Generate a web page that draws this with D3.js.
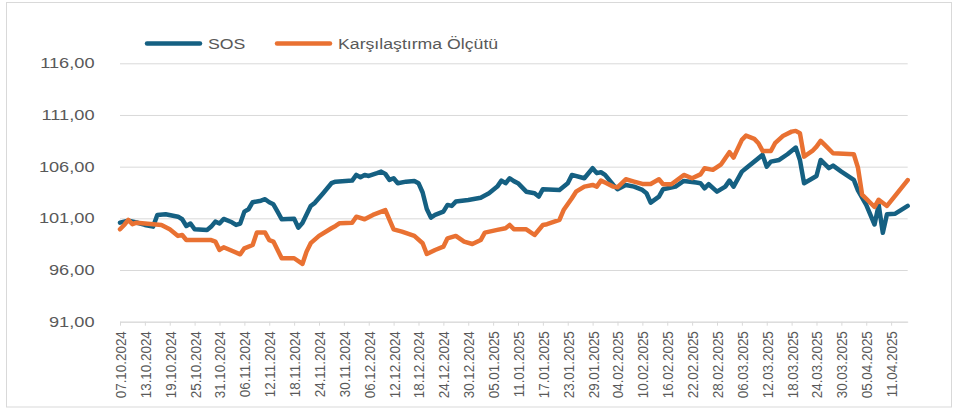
<!DOCTYPE html>
<html>
<head>
<meta charset="utf-8">
<script src="https://cdn.jsdelivr.net/npm/d3@7"></script>
<style>
  body { margin: 0; background: #fff; }
  svg { display: block; font-family: "Liberation Sans", Arial, sans-serif; }
</style>
</head>
<body>
<div id="chart"></div>
<script>
// series names
let seriesNames = ["SOS", "Karşılaştırma Ölçütü"];
let seriesColors = ["#156082", "#E97132"];

// SOS
let sosSeries = [
  ["2024-10-07",100.58],["2024-10-09",100.78],["2024-10-11",100.6],["2024-10-13",100.36],["2024-10-15",100.2],
  ["2024-10-16",101.33],["2024-10-18",101.4],["2024-10-21",101.16],["2024-10-22",100.91],["2024-10-23",100.26],
  ["2024-10-24",100.5],["2024-10-25",99.94],["2024-10-28",99.88],["2024-10-29",100.2],["2024-10-30",100.68],
  ["2024-10-31",100.5],["2024-11-01",100.94],["2024-11-03",100.62],["2024-11-04",100.36],["2024-11-05",100.5],
  ["2024-11-06",101.65],["2024-11-07",101.88],["2024-11-08",102.56],["2024-11-10",102.71],["2024-11-11",102.85],
  ["2024-11-12",102.56],["2024-11-13",102.36],["2024-11-14",101.65],["2024-11-15",100.91],["2024-11-18",100.97],
  ["2024-11-19",100.1],["2024-11-20",100.55],["2024-11-22",102.2],["2024-11-23",102.5],["2024-11-25",103.43],
  ["2024-11-27",104.4],["2024-11-28",104.55],["2024-12-02",104.65],["2024-12-03",105.2],["2024-12-04",104.98],
  ["2024-12-05",105.2],["2024-12-06",105.1],["2024-12-08",105.37],["2024-12-09",105.52],["2024-12-10",105.3],
  ["2024-12-11",104.72],["2024-12-12",104.88],["2024-12-13",104.4],["2024-12-15",104.55],["2024-12-17",104.62],
  ["2024-12-18",104.4],["2024-12-19",103.5],["2024-12-20",101.9],["2024-12-21",101.07],["2024-12-22",101.33],
  ["2024-12-24",101.65],["2024-12-25",102.3],["2024-12-26",102.2],["2024-12-27",102.62],["2024-12-30",102.78],
  ["2025-01-02",103.0],["2025-01-04",103.43],["2025-01-06",104.07],["2025-01-07",104.65],["2025-01-08",104.4],
  ["2025-01-09",104.88],["2025-01-10",104.6],["2025-01-11",104.4],["2025-01-13",103.58],["2025-01-15",103.43],
  ["2025-01-16",103.1],["2025-01-17",103.82],["2025-01-21",103.75],["2025-01-23",104.4],["2025-01-24",105.2],
  ["2025-01-27",104.88],["2025-01-29",105.85],["2025-01-30",105.37],["2025-01-31",105.46],["2025-02-01",105.2],
  ["2025-02-03",104.23],["2025-02-04",103.82],["2025-02-06",104.23],["2025-02-08",104.07],["2025-02-10",103.75],
  ["2025-02-11",103.43],["2025-02-12",102.52],["2025-02-14",103.1],["2025-02-15",103.82],["2025-02-18",104.07],
  ["2025-02-20",104.62],["2025-02-23",104.46],["2025-02-24",104.4],["2025-02-25",103.91],["2025-02-26",104.3],
  ["2025-02-28",103.58],["2025-03-02",104.07],["2025-03-03",104.65],["2025-03-04",104.07],["2025-03-06",105.52],
  ["2025-03-07",105.85],["2025-03-11",107.14],["2025-03-12",106.0],["2025-03-13",106.49],["2025-03-15",106.65],
  ["2025-03-17",107.2],["2025-03-19",107.85],["2025-03-20",106.65],["2025-03-21",104.4],["2025-03-24",105.1],
  ["2025-03-25",106.65],["2025-03-27",105.85],["2025-03-28",106.1],["2025-03-30",105.52],["2025-04-02",104.72],
  ["2025-04-03",103.7],["2025-04-05",102.3],["2025-04-07",100.4],["2025-04-08",102.3],["2025-04-09",99.6],
  ["2025-04-10",101.4],["2025-04-12",101.45],["2025-04-15",102.2]
];

// Karşılaştırma Ölçütü
let benchSeries = [
  ["2024-10-07",99.94],["2024-10-08",100.36],["2024-10-09",100.85],["2024-10-10",100.43],["2024-10-11",100.58],
  ["2024-10-15",100.43],["2024-10-17",100.36],["2024-10-19",99.94],["2024-10-21",99.3],["2024-10-22",99.39],
  ["2024-10-23",98.9],["2024-10-29",98.9],["2024-10-30",98.75],["2024-10-31",97.94],["2024-11-01",98.2],
  ["2024-11-05",97.52],["2024-11-06",98.1],["2024-11-08",98.42],["2024-11-09",99.62],["2024-11-11",99.62],
  ["2024-11-12",98.9],["2024-11-13",98.75],["2024-11-15",97.14],["2024-11-18",97.14],["2024-11-20",96.59],
  ["2024-11-21",97.78],["2024-11-22",98.6],["2024-11-24",99.3],["2024-11-27",100.04],["2024-11-28",100.26],
  ["2024-11-29",100.53],["2024-12-02",100.58],["2024-12-03",101.16],["2024-12-05",100.91],["2024-12-07",101.33],
  ["2024-12-10",101.8],["2024-12-12",99.94],["2024-12-14",99.71],["2024-12-17",99.3],["2024-12-19",98.59],
  ["2024-12-20",97.55],["2024-12-22",97.94],["2024-12-24",98.26],["2024-12-25",99.07],["2024-12-27",99.3],
  ["2024-12-29",98.75],["2024-12-31",98.52],["2025-01-02",98.9],["2025-01-03",99.62],["2025-01-06",99.88],
  ["2025-01-08",100.04],["2025-01-09",100.36],["2025-01-10",99.95],["2025-01-13",99.94],["2025-01-15",99.39],
  ["2025-01-17",100.36],["2025-01-18",100.43],["2025-01-21",100.85],["2025-01-22",101.8],["2025-01-24",102.95],
  ["2025-01-25",103.58],["2025-01-27",104.07],["2025-01-29",104.23],["2025-01-30",104.07],["2025-01-31",104.65],
  ["2025-02-01",104.46],["2025-02-03",104.07],["2025-02-04",104.0],["2025-02-06",104.78],["2025-02-08",104.55],
  ["2025-02-10",104.33],["2025-02-12",104.33],["2025-02-14",104.78],["2025-02-15",104.3],["2025-02-17",104.3],
  ["2025-02-20",105.2],["2025-02-22",104.88],["2025-02-24",105.25],["2025-02-25",105.85],["2025-02-27",105.69],
  ["2025-03-01",106.23],["2025-03-03",107.4],["2025-03-04",106.88],["2025-03-06",108.59],["2025-03-07",109.0],
  ["2025-03-09",108.69],["2025-03-10",108.27],["2025-03-11",107.52],["2025-03-13",107.52],["2025-03-14",108.27],
  ["2025-03-16",109.0],["2025-03-18",109.39],["2025-03-19",109.46],["2025-03-20",109.24],["2025-03-21",106.97],
  ["2025-03-23",107.52],["2025-03-24",107.94],["2025-03-25",108.5],["2025-03-26",108.1],["2025-03-28",107.3],
  ["2025-04-02",107.2],["2025-04-03",105.9],["2025-04-04",103.3],["2025-04-07",102.1],["2025-04-08",102.8],
  ["2025-04-10",102.2],["2025-04-12",103.2],["2025-04-15",104.7]
];

// axis labels
let xTickLabels = ["07.10.2024","13.10.2024","19.10.2024","25.10.2024","31.10.2024","06.11.2024","12.11.2024",
  "18.11.2024","24.11.2024","30.11.2024","06.12.2024","12.12.2024","18.12.2024","24.12.2024","30.12.2024",
  "05.01.2025","11.01.2025","17.01.2025","23.01.2025","29.01.2025","04.02.2025","10.02.2025","16.02.2025",
  "22.02.2025","28.02.2025","06.03.2025","12.03.2025","18.03.2025","24.03.2025","30.03.2025","05.04.2025","11.04.2025"];
let yTicks = [91, 96, 101, 106, 111, 116];
let xStart = "2024-10-07", xEnd = "2025-04-15";

let width = 953, height = 414;
let margin = ({top: 63.3, right: 45, bottom: 92.3, left: 120});

let parseIso = d3.timeParse("%Y-%m-%d");
let parseTr = d3.timeParse("%d.%m.%Y");

let svg = d3.select("#chart").append("svg")
    .attr("width", width)
    .attr("height", height);

// outer frame
svg.append("rect")
    .attr("x", 6.5).attr("y", 2.5)
    .attr("width", 945).attr("height", 404.5)
    .attr("fill", "none")
    .attr("stroke", "#d9d9d9");

let x = d3.scaleTime()
    .domain([parseIso(xStart), parseIso(xEnd)])
    .range([margin.left, width - margin.right - 0.3]);

let y = d3.scaleLinear()
    .domain([91, 116])
    .range([height - margin.bottom, margin.top]);

let fmt = v => v.toFixed(2).replace(".", ",");

// y axis + gridlines
let yAxis = g => g
    .attr("transform", `translate(${margin.left},0)`)
    .call(d3.axisLeft(y)
        .tickValues(yTicks)
        .tickSize(-(x.range()[1] - margin.left))
        .tickFormat(fmt))
    .call(g => g.select(".domain").remove())
    .call(g => g.selectAll(".tick line").attr("stroke", "#d9d9d9"))
    .call(g => g.selectAll(".tick text")
        .attr("x", 0)
        .attr("fill", "#595959")
        .attr("font-size", 14)
        .attr("transform", "translate(-25.5,0) scale(1.3,1)"));

svg.append("g").call(yAxis);

// x axis
let xAxis = g => g
    .attr("transform", `translate(0,${height - margin.bottom})`)
    .call(d3.axisBottom(x)
        .tickValues(xTickLabels.map(parseTr))
        .tickSize(4)
        .tickSizeOuter(0)
        .tickFormat(d3.timeFormat("%d.%m.%Y")))
    .call(g => g.select(".domain").attr("stroke", "#d9d9d9"))
    .call(g => g.selectAll(".tick line").attr("stroke", "#d9d9d9"))
    .call(g => g.selectAll(".tick text")
        .attr("fill", "#595959")
        .attr("font-size", 13.4)
        .attr("text-anchor", "end")
        .attr("x", -9.5)
        .attr("y", 0)
        .attr("dy", "0.35em")
        .attr("transform", "rotate(-90) scale(1,1.15)"));

svg.append("g").call(xAxis);

// lines
let line = d3.line()
    .x(d => x(parseIso(d[0])))
    .y(d => y(d[1]));

[sosSeries, benchSeries].forEach((s, i) => {
  svg.append("path")
      .datum(s)
      .attr("fill", "none")
      .attr("stroke", seriesColors[i])
      .attr("stroke-width", 4.5)
      .attr("stroke-linejoin", "round")
      .attr("stroke-linecap", "round")
      .attr("d", line);
});

// legend
let legendX = [147, 277];
let legend = svg.append("g");
seriesNames.forEach((name, i) => {
  legend.append("line")
      .attr("x1", legendX[i]).attr("x2", legendX[i] + 53)
      .attr("y1", 43.5).attr("y2", 43.5)
      .attr("stroke", seriesColors[i])
      .attr("stroke-width", 4.5)
      .attr("stroke-linecap", "round");
  legend.append("text")
      .attr("transform", `translate(${legendX[i] + 61},48.5) scale(1.18,1)`)
      .attr("fill", "#595959")
      .attr("font-size", 15)
      .text(name);
});
</script>
</body>
</html>
